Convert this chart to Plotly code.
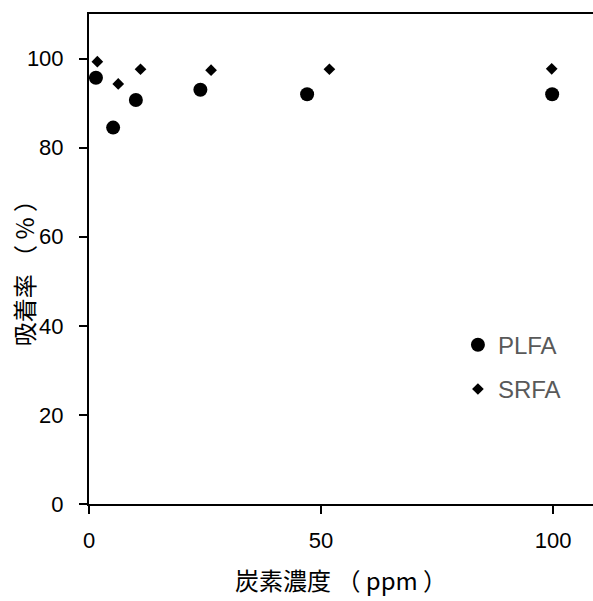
import plotly.graph_objects as go

plfa_x = [1.5, 5.2, 10.1, 24.0, 47.0, 99.8]
plfa_y = [95.7, 84.5, 90.7, 93.0, 92.0, 92.0]
srfa_x = [1.8, 6.3, 11.1, 26.3, 51.8, 99.7]
srfa_y = [99.3, 94.3, 97.6, 97.4, 97.6, 97.7]

x_ticks = [0, 50, 100]
y_ticks = [0, 20, 40, 60, 80, 100]

FONT = "Liberation Sans, Arial, Noto Sans CJK JP, sans-serif"
CJK = "Noto Sans CJK JP, Liberation Sans, sans-serif"

fig = go.Figure()
fig.add_trace(go.Scatter(x=plfa_x, y=plfa_y, mode="markers", name="PLFA",
                         legendgroup="a",
                         marker=dict(symbol="circle", size=14, color="black")))
fig.add_trace(go.Scatter(x=srfa_x, y=srfa_y, mode="markers", name="SRFA",
                         legendgroup="b",
                         marker=dict(symbol="diamond", size=9, color="black")))

fig.update_layout(
    width=593, height=601,
    margin=dict(l=89, r=0, t=14, b=97),
    paper_bgcolor="white", plot_bgcolor="white",
    font=dict(family=FONT, size=22, color="black"),
    showlegend=True,
    legend=dict(x=0.732, y=0.37, xanchor="left", yanchor="top",
                font=dict(size=24, color="#595959"),
                tracegroupgap=10, bgcolor="rgba(0,0,0,0)"),
    xaxis=dict(range=[0, 108.6], tickvals=x_ticks, showgrid=False, zeroline=False,
               showline=True, linecolor="black", linewidth=2, mirror=True,
               ticks="outside", ticklen=8, tickwidth=2, tickcolor="black",
               ticklabelstandoff=8),
    yaxis=dict(range=[0, 110], tickvals=y_ticks, showgrid=False, zeroline=False,
               showline=True, linecolor="black", linewidth=2,
               ticks="outside", ticklen=8, tickwidth=2, tickcolor="black",
               ticklabelstandoff=11),
    annotations=[
        dict(text="炭素濃度 （ ppm ）", xref="paper", yref="paper", x=0.5, y=-0.155,
             xanchor="center", yanchor="middle", showarrow=False,
             font=dict(size=24, color="black", family=CJK)),
        dict(text="吸着率 （ %\u00a0）", xref="paper", yref="paper", x=-0.131, y=0.483,
             xanchor="center", yanchor="middle", showarrow=False, textangle=-90,
             font=dict(size=24, color="black", family=CJK)),
    ],
)

fig.write_html("out.html")
